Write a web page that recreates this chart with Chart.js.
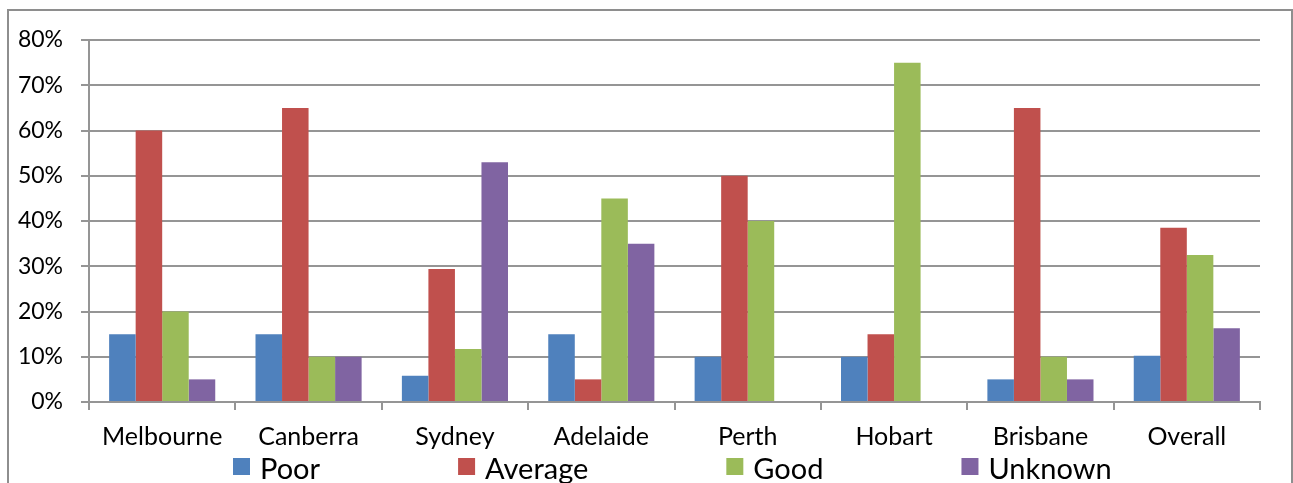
<!DOCTYPE html>
<html>
<head>
<meta charset="utf-8">
<script src="https://cdn.jsdelivr.net/npm/chart.js@4"></script>
<style>
  body { margin: 0; background: #fff; overflow: hidden; }
  .frame {
    position: absolute;
    left: 7px;
    top: 9px;
    width: 1286px;
    height: 520px;
    box-sizing: border-box;
    border: 2px solid #8e8e8e;
  }
</style>
</head>
<body>
<div class="frame">
  <canvas id="myChart" width="1282" height="516"></canvas>
</div>
<script>
const cities = ["Melbourne", "Canberra", "Sydney", "Adelaide", "Perth", "Hobart", "Brisbane", "Overall"];
const poor = [15, 15, 5.8, 15, 10, 10, 5, 10.2];
const average = [60, 65, 29.4, 5, 50, 15, 65, 38.5];
const good = [20, 10, 11.7, 45, 40, 75, 10, 32.5];
const unknown = [5, 10, 53, 35, 0, 0, 5, 16.3];
const yTicks = [0, 10, 20, 30, 40, 50, 60, 70, 80];

const font = "Lato";
const gridColor = "#959595";

// legend drawn under the axis, wide gaps like the excel one
const legendPlugin = {
  id: "bottomLegend",
  afterDraw(chart) {
    const ctx = chart.ctx;
    ctx.save();
    ctx.font = "29px " + font;
    ctx.textBaseline = "alphabetic";
    let x = 224;
    chart.data.datasets.forEach((ds) => {
      ctx.fillStyle = ds.backgroundColor;
      ctx.fillRect(x, 447, 17, 17);
      ctx.fillStyle = "#000";
      ctx.fillText(ds.label, x + 27, 468);
      x += 27 + ctx.measureText(ds.label).width + 138;
    });
    ctx.restore();
  },
};

const data = {
  labels: cities,
  datasets: [
    { label: "Poor", data: poor, backgroundColor: "#4F81BD" },
    { label: "Average", data: average, backgroundColor: "#C0504D" },
    { label: "Good", data: good, backgroundColor: "#9BBB59" },
    { label: "Unknown", data: unknown, backgroundColor: "#8064A2" },
  ],
};

const config = {
  type: "bar",
  data: data,
  options: {
    responsive: false,
    animation: false,
    categoryPercentage: 0.725,
    barPercentage: 1.0,
    layout: {
      padding: { left: 0, top: 29, right: 31, bottom: 65 },
    },
    scales: {
      x: {
        grid: {
          drawOnChartArea: false,
          drawTicks: true,
          tickLength: 8,
          color: gridColor,
          lineWidth: 2,
        },
        border: { color: gridColor, width: 2 },
        ticks: {
          color: "#000",
          padding: 12,
          font: { family: font, size: 25 },
        },
        afterFit(scale) {
          scale.height = 60;
        },
      },
      y: {
        min: 0,
        max: 80,
        afterBuildTicks(scale) {
          scale.ticks = yTicks.map((v) => ({ value: v }));
        },
        grid: {
          color: gridColor,
          lineWidth: 2,
          tickLength: 8,
        },
        border: { color: gridColor, width: 2 },
        ticks: {
          color: "#000",
          padding: 18,
          font: { family: font, size: 23 },
          callback: (v) => v + "%",
        },
        afterFit(scale) {
          scale.width = 80;
          scale.paddingTop = 0;
          scale.paddingBottom = 0;
        },
      },
    },
    plugins: {
      legend: { display: false },
      tooltip: { enabled: false },
    },
  },
  plugins: [legendPlugin],
};
const myChart = new Chart(document.getElementById("myChart"), config);
</script>
</body>
</html>
